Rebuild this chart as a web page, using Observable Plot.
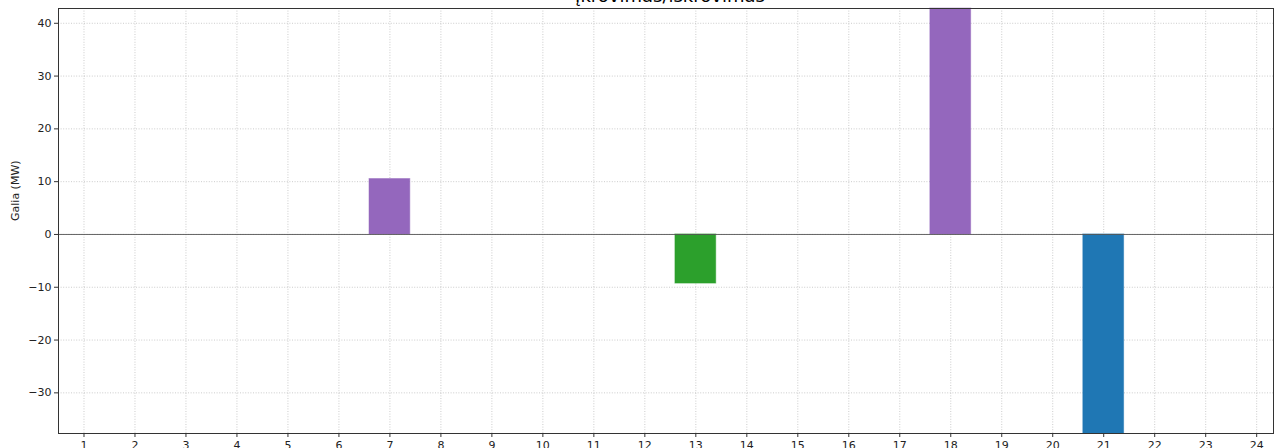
<!DOCTYPE html>
<html><head><meta charset="utf-8">
<script src="https://cdn.jsdelivr.net/npm/d3@7"></script>
<script src="https://cdn.jsdelivr.net/npm/@observablehq/plot@0.6"></script>
<style>
body{margin:0;background:#fff;overflow:hidden;font-family:"DejaVu Sans",sans-serif;}
#wrap{position:relative;width:1274px;height:448px;}
#title{position:absolute;top:-15px;left:0;width:1340px;text-align:center;font-size:18px;color:#000;white-space:nowrap;}
</style></head>
<body><div id="wrap"><div id="title">Įkrovimas/iškrovimas</div><div id="chart"></div></div>
<script>
const hours = d3.range(1, 25);
const values = [0,0,0,0,0,0,10.5,0,0,0,0,0,-9.3,0,0,0,0,42.8,0,0,-37.7,0,0,0];
const barColors = {7:"#9467bd", 13:"#2ca02c", 18:"#9467bd", 21:"#1f77b4"};
const yTicks = [-30,-20,-10,0,10,20,30,40];
const yDomain = [-37.7, 42.8];
const xDomain = [0.5, 24.33];
const barWidth = 0.8;

const data = hours.map((h, i) => ({hour: h, value: values[i], color: barColors[h] || "#9467bd"})).filter(d => d.value !== 0);

const chart = Plot.plot({
  width: 1274, height: 448,
  marginLeft: 58, marginRight: 1, marginTop: 8, marginBottom: 15,
  style: {fontFamily: "DejaVu Sans, sans-serif", fontSize: "11px", color: "#222", background: "white"},
  x: {domain: xDomain, axis: null},
  y: {domain: yDomain, axis: null},
  marks: [
    Plot.gridX(hours, {stroke: "#aaa", strokeOpacity: 0.75, strokeDasharray: "1,1.6", strokeWidth: 0.8}),
    Plot.gridY(yTicks, {stroke: "#aaa", strokeOpacity: 0.75, strokeDasharray: "1,1.6", strokeWidth: 0.8}),
    Plot.rectY(data, {x1: d => d.hour - barWidth/2, x2: d => d.hour + barWidth/2, y1: 0, y2: "value", fill: "color", fillOpacity: 1, stroke: "color", strokeOpacity: 0.5, strokeWidth: 1}),
    Plot.ruleY([0], {stroke: "#555", strokeWidth: 0.9}),
    Plot.frame({stroke: "#333", strokeWidth: 1}),
    Plot.axisY(yTicks, {tickSize: 4, tickPadding: 3, stroke: "#333", fill: "#222", fontSize: 11,
      tickFormat: d => d < 0 ? "\u2212" + Math.abs(d) : String(d), label: null}),
    Plot.axisX(hours, {tickSize: 4, tickPadding: 3.5, stroke: "#333", fill: "#222", fontSize: 11, label: null}),
    Plot.text(["Galia (MW)"], {frameAnchor: "left", dx: -43, rotate: -90, fontSize: 11, fill: "#222"})
  ]
});
document.getElementById("chart").appendChild(chart);
</script></body></html>
